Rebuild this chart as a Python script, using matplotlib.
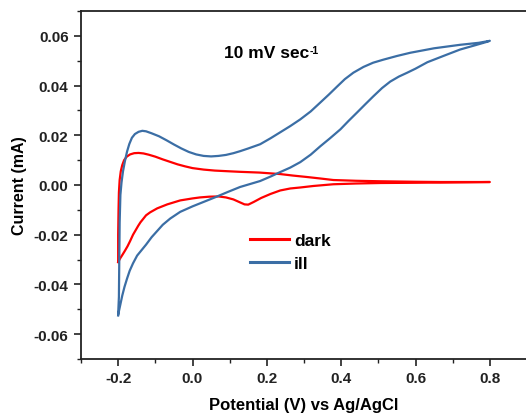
import matplotlib
matplotlib.use("Agg")
import matplotlib.pyplot as plt
from matplotlib.ticker import MultipleLocator

plt.rcParams['font.family'] = ['Liberation Sans', 'DejaVu Sans']
plt.rcParams['font.weight'] = 'bold'

# Cyclic voltammogram under illumination (forward sweep then return sweep)
ill_potential = [
    -0.200, -0.198, -0.197, -0.196, -0.194, -0.191, -0.187, -0.182, -0.176,
    -0.170, -0.163, -0.155, -0.145, -0.135, -0.125, -0.110, -0.090, -0.070,
    -0.050, -0.030, -0.010, 0.010, 0.030, 0.050, 0.070, 0.090, 0.110,
    0.128, 0.150, 0.182, 0.210, 0.236, 0.263, 0.290, 0.318, 0.344,
    0.367, 0.389, 0.410, 0.433, 0.460, 0.486, 0.513, 0.550, 0.586,
    0.650, 0.720, 0.770, 0.800,
    0.790, 0.760, 0.720, 0.680, 0.632, 0.600, 0.578, 0.555, 0.532,
    0.510, 0.486, 0.465, 0.443, 0.420, 0.398, 0.370, 0.344, 0.318,
    0.290, 0.263, 0.236, 0.210, 0.182, 0.155, 0.128, 0.095, 0.060,
    0.030, 0.000, -0.033, -0.060, -0.080, -0.095, -0.110, -0.125, -0.137,
    -0.149, -0.160, -0.169, -0.176, -0.183, -0.189, -0.194, -0.198, -0.200,
]
ill_current = [
    -0.0520, -0.0450, -0.0300, -0.0150, -0.0040, 0.0010, 0.0055, 0.0095, 0.0135,
    0.0165, 0.0190, 0.0205, 0.0214, 0.0218, 0.0216, 0.0208, 0.0196, 0.0180,
    0.0163, 0.0147, 0.0133, 0.0123, 0.0117, 0.0115, 0.0117, 0.0121, 0.0128,
    0.0136, 0.0147, 0.0164, 0.0188, 0.0212, 0.0237, 0.0264, 0.0296, 0.0332,
    0.0364, 0.0396, 0.0426, 0.0452, 0.0475, 0.0492, 0.0504, 0.0519, 0.0532,
    0.0550, 0.0564, 0.0572, 0.0580,
    0.0575, 0.0562, 0.0545, 0.0522, 0.0494, 0.0468, 0.0452, 0.0436, 0.0416,
    0.0390, 0.0356, 0.0325, 0.0292, 0.0258, 0.0224, 0.0188, 0.0156, 0.0122,
    0.0092, 0.0070, 0.0052, 0.0034, 0.0016, 0.0004, -0.0008, -0.0028, -0.0050,
    -0.0068, -0.0086, -0.0108, -0.0135, -0.0160, -0.0185, -0.0210, -0.0240, -0.0262,
    -0.0284, -0.0315, -0.0345, -0.0376, -0.0410, -0.0445, -0.0480, -0.0508, -0.0525,
]

# Cyclic voltammogram in the dark
dark_potential = [
    -0.200, -0.200, -0.199, -0.198, -0.196, -0.193, -0.189, -0.184, -0.177,
    -0.168, -0.157, -0.145, -0.132, -0.118, -0.100, -0.080, -0.060, -0.040,
    -0.020, 0.000, 0.030, 0.060, 0.100, 0.128, 0.180, 0.236, 0.270,
    0.309, 0.345, 0.379, 0.440, 0.505, 0.600, 0.667, 0.740, 0.800,
    0.740, 0.667, 0.600, 0.505, 0.440, 0.379, 0.325, 0.290, 0.263,
    0.236, 0.210, 0.185, 0.165, 0.150, 0.140, 0.125, 0.110, 0.090,
    0.070, 0.045, 0.020, 0.000, -0.033, -0.068, -0.095, -0.114, -0.125,
    -0.133, -0.140, -0.146, -0.153, -0.160, -0.168, -0.175, -0.182, -0.189,
    -0.195, -0.200,
]
dark_current = [
    -0.0310, -0.0200, -0.0100, -0.0030, 0.0020, 0.0055, 0.0080, 0.0100, 0.0114,
    0.0123, 0.0128, 0.0129, 0.0127, 0.0122, 0.0114, 0.0103, 0.0093, 0.0083,
    0.0075, 0.0068, 0.0062, 0.0058, 0.0055, 0.0053, 0.0050, 0.0044, 0.0038,
    0.0032, 0.0026, 0.0020, 0.0017, 0.0015, 0.0013, 0.0012, 0.0012, 0.0012,
    0.0011, 0.0010, 0.0009, 0.0008, 0.0006, 0.0003, -0.0004, -0.0010, -0.0014,
    -0.0022, -0.0036, -0.0052, -0.0068, -0.0079, -0.0078, -0.0068, -0.0058, -0.0050,
    -0.0046, -0.0047, -0.0050, -0.0054, -0.0062, -0.0078, -0.0094, -0.0110, -0.0122,
    -0.0137, -0.0150, -0.0164, -0.0182, -0.0200, -0.0226, -0.0247, -0.0265, -0.0282,
    -0.0296, -0.0310,
]

fig = plt.figure(figsize=(5.26, 4.14), dpi=100)
ax = fig.add_axes([81 / 526, 54 / 414, 446 / 526, 348 / 414])

ax.plot(dark_potential, dark_current, color='#ff0000', lw=1.6, label='dark')
ax.plot(ill_potential, ill_current, color='#3b6ea5', lw=1.6, label='ill')

ax.set_xlim(-0.3, 0.9)
ax.set_ylim(-0.07, 0.07)
ax.xaxis.set_minor_locator(MultipleLocator(0.1))
ax.yaxis.set_minor_locator(MultipleLocator(0.01))
ax.set_xticks([-0.2, 0.0, 0.2, 0.4, 0.6, 0.8])
ax.set_xticklabels(['-0.2', '0.0', '0.2', '0.4', '0.6', '0.8'])
ax.set_yticks([-0.06, -0.04, -0.02, 0.0, 0.02, 0.04, 0.06])
ax.set_yticklabels(['-0.06', '-0.04', '-0.02', '0.00', '0.02', '0.04', '0.06'])

ax.tick_params(which='major', direction='out', length=5, width=1.2,
               labelsize=11, colors='#222222', pad=4)
ax.tick_params(which='minor', direction='out', length=3, width=1.0, colors='#222222')
ax.tick_params(top=False, right=False, which='both')
for s in ('left', 'bottom', 'top'):
    ax.spines[s].set_linewidth(1.3)
    ax.spines[s].set_color('#222222')
ax.spines['right'].set_visible(False)

ax.set_xlabel('Potential (V) vs Ag/AgCl', fontsize=12, fontweight='bold', labelpad=8)
ax.set_ylabel('Current (mA)', fontsize=11.5, fontweight='bold', labelpad=5)

rate = ax.text(0.085, 0.0532, '10 mV sec', fontsize=12.5, fontweight='bold',
               ha='left', va='center')
ax.annotate('-1', xy=(1, 1), xycoords=rate, xytext=(0.5, 0.5),
            textcoords='offset points', ha='left', va='top',
            fontsize=7.5, fontweight='bold')

leg = ax.legend(loc='upper left', bbox_to_anchor=(0.38, 0.362), frameon=False,
                fontsize=12.5, handlelength=2.2, handletextpad=0.3,
                labelspacing=0.45, borderpad=0, borderaxespad=0)
for t in leg.get_texts():
    t.set_fontweight('bold')
for h in leg.get_lines():
    h.set_linewidth(2.2)

fig.savefig('out.png', dpi=100)
